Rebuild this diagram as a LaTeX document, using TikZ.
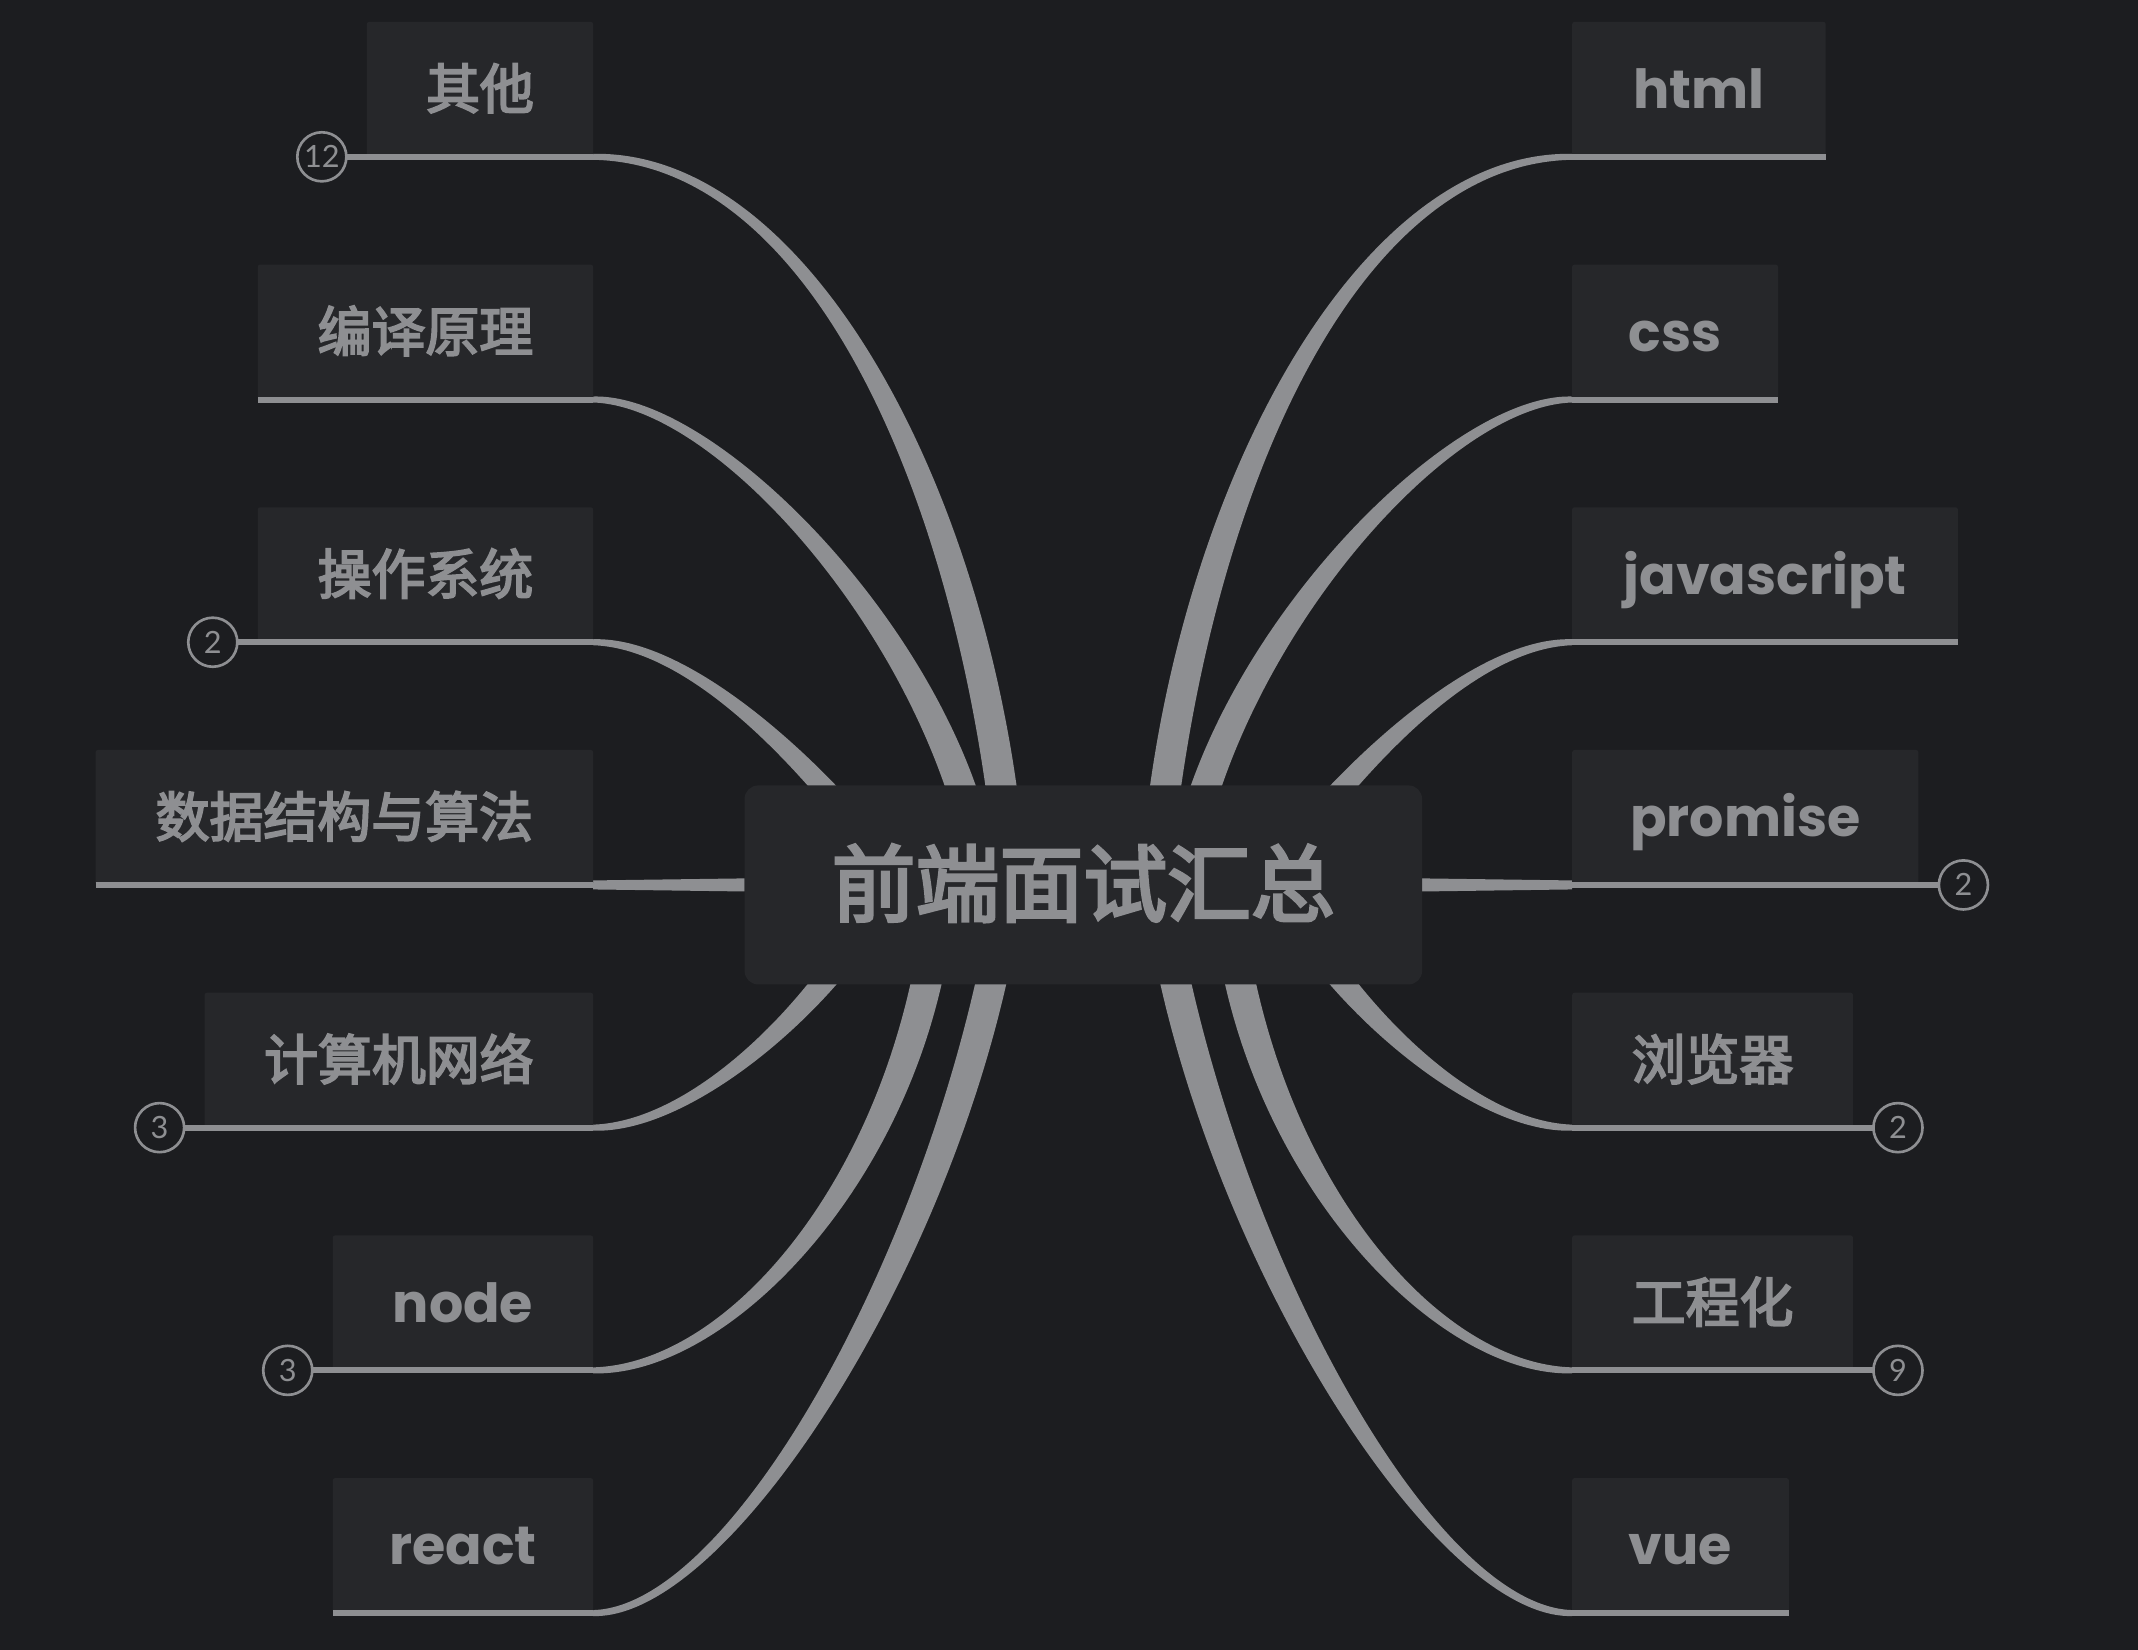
\documentclass[tikz,border=0pt]{standalone}
\usepackage{fontspec}
\setmainfont{Poppins}
\newfontfamily\zhbase{Noto Sans CJK SC}[FakeBold=3.6]
\newcommand{\zhfont}{\zhbase\mdseries}
\newfontfamily\numfont{Lato}
\usetikzlibrary{positioning,calc,backgrounds}

\definecolor{bg}{HTML}{1C1D20}
\definecolor{cardbg}{HTML}{26272A}
\definecolor{wire}{HTML}{8E8F92}
\definecolor{ink}{HTML}{8E8F92}

\tikzset{
  leaf/.style={fill=cardbg, rounded corners=1pt, minimum height=1.98cm, inner xsep=0.2cm, inner ysep=0pt, outer sep=0pt, text=ink, text height=16.2pt, text depth=0pt, font={\fontsize{22.5}{27}\selectfont\bfseries}},
  hubbox/.style={fill=cardbg, rounded corners=0.2cm, minimum width=9.94cm, minimum height=2.92cm, outer sep=0pt, text=ink, text height=25.2pt, text depth=0pt, font={\fontsize{35}{42}\selectfont\bfseries}},
  badge/.style={circle, draw=wire, line width=1.1pt, fill=bg, minimum size=0.72cm, inner sep=0pt, outer sep=0pt, text=ink, text height=9.2pt, text depth=0pt, font={\numfont\fontsize{12.8}{14}\selectfont}},
  uline/.style={draw=wire, line width=0.088cm},
  twig/.style={fill=wire}
}

\begin{document}
\begin{tikzpicture}[x=0.02cm, y=-0.02cm]
  \node (hub) [hubbox] at (794.5,649) {\zhfont 前端面试汇总};

  \node (L1) [leaf, anchor=south east, minimum width=3.32cm] at (435,115) {\zhfont 其他};
  \node (L2) [leaf, anchor=south east, minimum width=4.92cm] at (435,293) {\zhfont 编译原理};
  \node (L3) [leaf, anchor=south east, minimum width=4.92cm] at (435,471) {\zhfont 操作系统};
  \node (L4) [leaf, anchor=south east, minimum width=7.3cm] at (435,649) {\zhfont 数据结构与算法};
  \node (L5) [leaf, anchor=south east, minimum width=5.7cm] at (435,827) {\zhfont 计算机网络};
  \node (L6) [leaf, anchor=south east, minimum width=3.82cm] at (435,1005) {node};
  \node (L7) [leaf, anchor=south east, minimum width=3.82cm] at (435,1183) {react};

  \node (R1) [leaf, anchor=south west, minimum width=3.72cm] at (1153,115) {html};
  \node (R2) [leaf, anchor=south west, minimum width=3.02cm] at (1153,293) {css};
  \node (R3) [leaf, anchor=south west, minimum width=5.66cm] at (1153,471) {javascript};
  \node (R4) [leaf, anchor=south west, minimum width=5.08cm] at (1153,649) {promise};
  \node (R5) [leaf, anchor=south west, minimum width=4.12cm] at (1153,827) {\zhfont 浏览器};
  \node (R6) [leaf, anchor=south west, minimum width=4.12cm] at (1153,1005) {\zhfont 工程化};
  \node (R7) [leaf, anchor=south west, minimum width=3.18cm] at (1153,1183) {vue};

  \node (n1) [badge, left=0.3cm of L1.south west] {12};
  \node (n3) [badge, left=0.3cm of L3.south west] {2};
  \node (n5) [badge, left=0.3cm of L5.south west] {3};
  \node (n6) [badge, left=0.3cm of L6.south west] {3};
  \node (m4) [badge, right=0.3cm of R4.south east] {2};
  \node (m5) [badge, right=0.3cm of R5.south east] {2};
  \node (m6) [badge, right=0.3cm of R6.south east] {9};

  \draw[uline] (n1.east) -- (L1.south east);
  \draw[uline] (L2.south west) -- (L2.south east);
  \draw[uline] (n3.east) -- (L3.south east);
  \draw[uline] (L4.south west) -- (L4.south east);
  \draw[uline] (n5.east) -- (L5.south east);
  \draw[uline] (n6.east) -- (L6.south east);
  \draw[uline] (L7.south west) -- (L7.south east);
  \draw[uline] (R1.south west) -- (R1.south east);
  \draw[uline] (R2.south west) -- (R2.south east);
  \draw[uline] (R3.south west) -- (R3.south east);
  \draw[uline] (R4.south west) -- (m4.west);
  \draw[uline] (R5.south west) -- (m5.west);
  \draw[uline] (R6.south west) -- (m6.west);
  \draw[uline] (R7.south west) -- (R7.south east);

  \begin{scope}[on background layer]
    \fill[bg] (0,0) rectangle (1568,1210);
    % tapered branches, thick at the hub, thin at the leaf
    \foreach \leaf/\tip/\sx/\ax/\ay/\bx/\k in {
      L1/south east/-52.5/-72.5/-269/165/-1, L2/south east/-72.5/-94.5/-169/95/-1,
      L3/south east/-134.5/-164.5/-49/85/-1, L5/south east/-144.5/-174.5/71/80/1,
      L6/south east/-104.5/-119.5/201/105/1, L7/south east/-54.5/-89.5/251/105/1,
      R1/south west/52.5/72.5/-269/-165/1, R2/south west/72.5/94.5/-169/-95/1,
      R3/south west/134.5/164.5/-49/-85/1, R5/south west/144.5/174.5/71/-80/-1,
      R6/south west/104.5/119.5/201/-105/-1, R7/south west/54.5/89.5/251/-105/-1}
    {
      \fill[twig] ($(hub)+(\sx+11,0)$) .. controls ($(hub)+(\ax+14,\ay)$) and ($(\leaf.\tip)+(\bx,\k*5)$) .. ($(\leaf.\tip)+(0,\k*2.2)$)
        -- ($(\leaf.\tip)+(0,-2.2*\k)$) .. controls ($(\leaf.\tip)+(\bx,-5*\k)$) and ($(hub)+(\ax-14,\ay)$) .. ($(hub)+(\sx-11,0)$) -- cycle;
    }
    \fill[twig] ($(hub.west)+(0,-4.8)$) -- ($(L4.south east)+(0,-3.3)$) -- ($(L4.south east)+(0,3.3)$) -- ($(hub.west)+(0,4.8)$) -- cycle;
    \fill[twig] ($(hub.east)+(0,-4.8)$) -- ($(R4.south west)+(0,-3.3)$) -- ($(R4.south west)+(0,3.3)$) -- ($(hub.east)+(0,4.8)$) -- cycle;
  \end{scope}
\end{tikzpicture}
\end{document}
